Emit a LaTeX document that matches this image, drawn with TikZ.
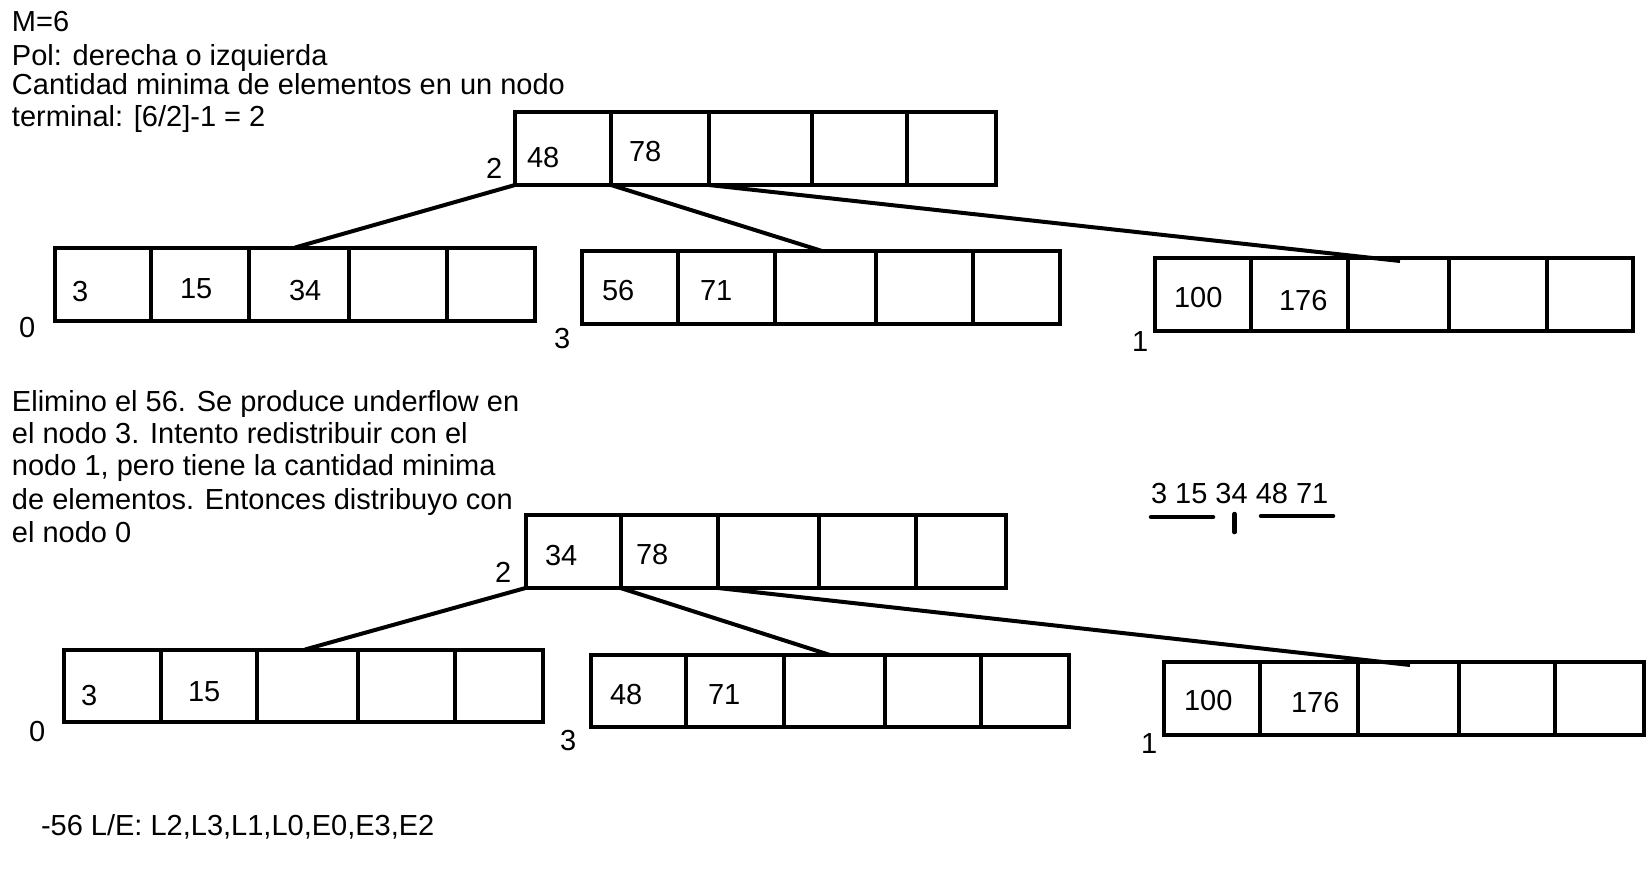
\documentclass[tikz,border=0pt]{standalone}
\usepackage{fontspec}
\setmainfont{Liberation Sans}
\tikzset{
  cell/.style={draw, line width=4pt, inner sep=0pt, outer sep=0pt},
  link/.style={line width=4pt},
  txt/.style={anchor=base west, inner sep=0pt, outer sep=0pt, font=\fontsize{29}{33}\selectfont},
  mark line/.style={line width=4.5pt, line cap=round},
}
\newcommand{\mkbox}[4]{%
  \foreach \xa/\xb [count=\i] in {#2} {
    \node[cell, minimum width={(\xb-\xa)*1pt}, minimum height={(#4-#3)*1pt}] (#1\i) at ({(\xa+\xb)/2},{(#3+#4)/2}) {};
  }%
}
\begin{document}
\begin{tikzpicture}[x=1pt,y=-1pt]
\fill[white] (0,0) rectangle (1648,876);
\useasboundingbox (0,0) rectangle (1648,876);

% header text
\node[txt] (h1) at (12,31) {M=6};
\node[txt] (h2) at (12,65.5) {Pol: derecha o izquierda};
\node[txt] (h3) at (12,94) {Cantidad minima de elementos en un nodo};
\node[txt] (h4) at (12,126) {terminal: [6/2]-1 = 2};

% first tree
\mkbox{A}{515/611,611/709,709/812,812/907,907/996}{112}{185}
\mkbox{B}{55/151,151/248.5,248.5/349,349/446.6,446.6/535}{247.5}{321}
\mkbox{C}{582/678,678/775,775/876,876/973,973/1060}{251}{324}
\mkbox{D}{1155/1251,1251/1348,1348/1449,1449/1547,1547/1633}{257.5}{331}

\coordinate (pB) at (295,247.5);
\coordinate (pC) at (822,251);
\coordinate (pD) at (1400,261);
\draw[link] (A1.south west) -- (pB);
\draw[link] (A2.south west) -- (pC);
\draw[link] (A3.south west) -- (pD);

\node[txt] (a48) at (527,167) {48};
\node[txt] (a78) at (629,161) {78};
\node[txt] (al) at (486,178) {2};
\node[txt] (b3) at (72,301) {3};
\node[txt] (b15) at (180,298) {15};
\node[txt] (b34) at (289,300) {34};
\node[txt] (bl) at (19,337) {0};
\node[txt] (c56) at (602,300) {56};
\node[txt] (c71) at (700,300) {71};
\node[txt] (cl) at (554,348) {3};
\node[txt] (d100) at (1174,307) {100};
\node[txt] (d176) at (1279,310) {176};
\node[txt] (dl) at (1132,351) {1};

% explanation
\node[txt] (e1) at (12,411) {Elimino el 56. Se produce underflow en};
\node[txt] (e2) at (12,443) {el nodo 3. Intento redistribuir con el};
\node[txt] (e3) at (12,475.5) {nodo 1, pero tiene la cantidad minima};
\node[txt] (e4) at (12,509) {de elementos. Entonces distribuyo con};
\node[txt] (e5) at (12,542) {el nodo 0};

% side annotation
\node[txt] (seq) at (1151,503) {3 15 34 48 71};
\draw[mark line] (1151,517) -- (1213,517);
\draw[mark line] (1234.5,514) -- (1234.5,532);
\draw[mark line] (1261,516) -- (1333,516);

% second tree
\mkbox{E}{525.5/620.5,620.5/718,718/818.5,818.5/916,916/1006}{515}{588}
\mkbox{F}{64/160.6,160.6/257,257/358,358/455,455/543}{649.5}{722}
\mkbox{G}{591/686,686/784,784/885,885/981,981/1069}{654.7}{727}
\mkbox{H}{1164/1260,1260/1358,1358/1458.7,1458.7/1555,1555/1644}{662}{734.7}

\coordinate (pF) at (305,649.5);
\coordinate (pG) at (830,655);
\coordinate (pH) at (1410,665);
\draw[link] (E1.south west) -- (pF);
\draw[link] (E2.south west) -- (pG);
\draw[link] (E3.south west) -- (pH);

\node[txt] (e34) at (545,565) {34};
\node[txt] (e78) at (636,564) {78};
\node[txt] (el) at (495,582) {2};
\node[txt] (f3) at (81,705) {3};
\node[txt] (f15) at (188,701) {15};
\node[txt] (fl) at (29,741) {0};
\node[txt] (g48) at (610,704) {48};
\node[txt] (g71) at (708,704) {71};
\node[txt] (gl) at (560,750) {3};
\node[txt] (h100) at (1184,710) {100};
\node[txt] (h176) at (1291,712) {176};
\node[txt] (hl) at (1141,753) {1};

% footer
\node[txt] (foot) at (41,835) {-56 L/E: L2,L3,L1,L0,E0,E3,E2};
\end{tikzpicture}
\end{document}
